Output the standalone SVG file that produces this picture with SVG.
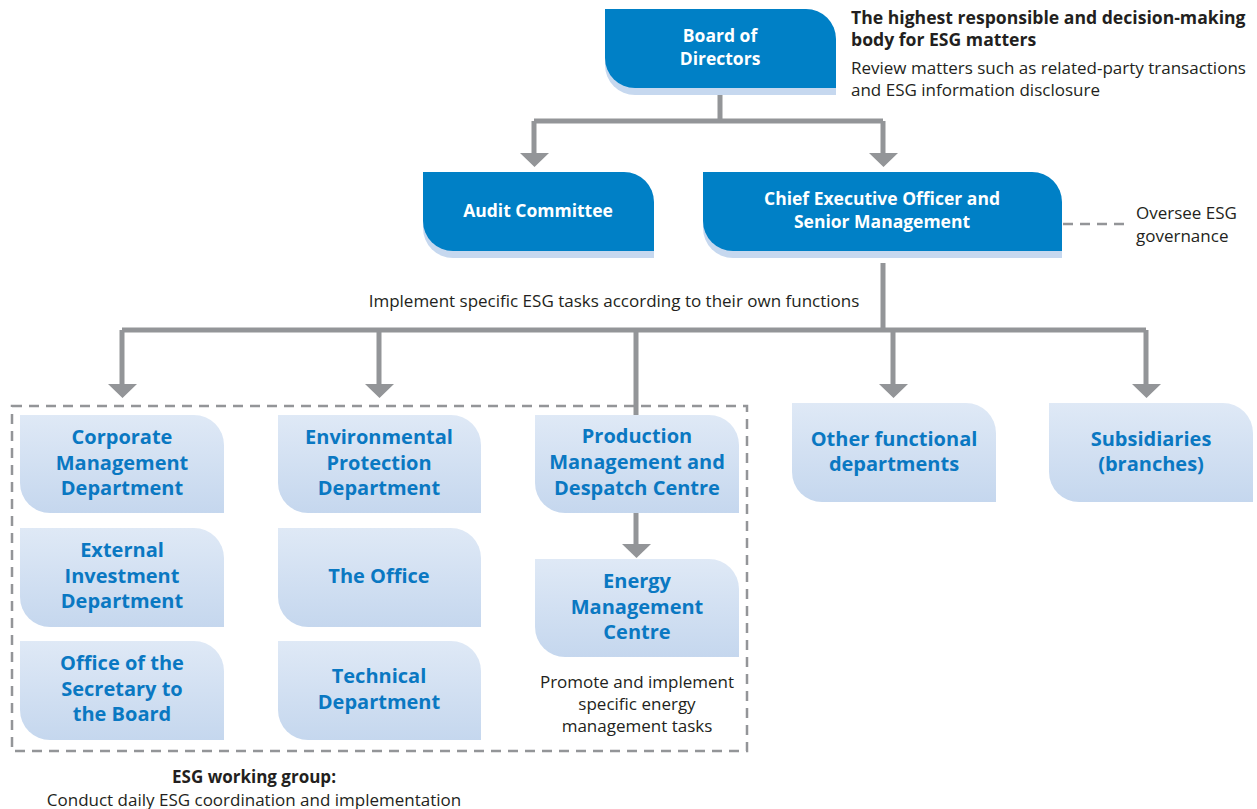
<svg xmlns="http://www.w3.org/2000/svg" width="1257" height="809" viewBox="0 0 1257 809">
<defs>
<linearGradient id="lg" x1="0" y1="0" x2="0" y2="1">
<stop offset="0" stop-color="#dfe9f6"/>
<stop offset="1" stop-color="#c5d7ee"/>
</linearGradient>
</defs>
<style>
.dk{fill:#0080c6}
.sh{fill:#c6d8ef}
.lt{fill:url(#lg)}
.wt{font-family:"Open Sans","Noto Sans",sans-serif;font-weight:bold;font-size:17.5px;fill:#ffffff;text-anchor:middle}
.bt{font-family:"Open Sans","Noto Sans",sans-serif;font-weight:bold;font-size:20px;fill:#0a78c2;text-anchor:middle}
.tx{font-family:"Open Sans","Noto Sans",sans-serif;font-size:17px;fill:#231f20}
.tb{font-family:"Open Sans","Noto Sans",sans-serif;font-size:17.6px;font-weight:bold;fill:#231f20}
.ln{fill:none;stroke:#939598;stroke-width:5}
.ar{fill:#939598}
.ds{fill:none;stroke:#939598;stroke-width:2.5;stroke-dasharray:10 7}
</style>

<g id="connectors">
<path class="ln" d="M720,95 V121 M534,121 H883 M534,121 V154 M883,121 V154"/>
<path class="ar" d="M520,153 H549 L534.5,167 Z M869,153 H898 L883.5,167 Z"/>
<path class="ln" d="M883,263 V330 M122,330 H1146 M122,330 V385 M379,330 V385 M636,330 V415 M893,330 V385 M1146,330 V385"/>
<path class="ar" d="M108,384 H137 L122.5,398 Z M365,384 H394 L379.5,398 Z M879,384 H908 L893.5,398 Z M1132,384 H1161 L1146.5,398 Z"/>
<path class="ln" d="M636,513 V545"/>
<path class="ar" d="M622,544 H651 L636.5,558 Z"/>
<path class="ds" d="M1063,224 H1128"/>
</g>

<g id="esg-working-group">
<rect class="ds" x="12" y="406" width="735" height="345"/>
<text class="tx" x="254" y="783" text-anchor="middle" style="font-weight:bold">ESG working group:</text>
<text class="tx" x="254" y="806" text-anchor="middle">Conduct daily ESG coordination and implementation</text>
</g>

<g id="board">
<path class="sh" d="M605,16 H806 A30,30 0 0 1 836,46 V95 H635 A30,30 0 0 1 605,65 Z"/>
<path class="dk" d="M605,9 H806 A30,30 0 0 1 836,39 V88 H635 A30,30 0 0 1 605,58 Z"/>
<text class="wt" x="720" y="42">Board of</text>
<text class="wt" x="720" y="65">Directors</text>
</g>

<g id="board-note">
<text class="tb" x="851" y="24">The highest responsible and decision-making</text>
<text class="tb" x="851" y="46">body for ESG matters</text>
<text class="tx" x="851" y="74">Review matters such as related-party transactions</text>
<text class="tx" x="851" y="96">and ESG information disclosure</text>
</g>

<g id="audit">
<path class="sh" d="M423,179 H624 A30,30 0 0 1 654,209 V258 H453 A30,30 0 0 1 423,228 Z"/>
<path class="dk" d="M423,172 H624 A30,30 0 0 1 654,202 V251 H453 A30,30 0 0 1 423,221 Z"/>
<text class="wt" x="538" y="217">Audit Committee</text>
</g>

<g id="ceo">
<path class="sh" d="M703,179 H1032 A30,30 0 0 1 1062,209 V258 H733 A30,30 0 0 1 703,228 Z"/>
<path class="dk" d="M703,172 H1032 A30,30 0 0 1 1062,202 V251 H733 A30,30 0 0 1 703,221 Z"/>
<text class="wt" x="882" y="205">Chief Executive Officer and</text>
<text class="wt" x="882" y="228">Senior Management</text>
</g>

<g id="ceo-note">
<text class="tx" x="1136" y="219">Oversee ESG</text>
<text class="tx" x="1136" y="242">governance</text>
</g>

<g id="implement-label">
<text class="tx" x="614" y="307" text-anchor="middle">Implement specific ESG tasks according to their own functions</text>
</g>

<g id="corporate">
<path class="lt" d="M20,415 H194 A30,30 0 0 1 224,445 V513 H50 A30,30 0 0 1 20,483 Z"/>
<text class="bt" x="122" y="444">Corporate</text>
<text class="bt" x="122" y="470">Management</text>
<text class="bt" x="122" y="495">Department</text>
</g>

<g id="external">
<path class="lt" d="M20,528 H194 A30,30 0 0 1 224,558 V627 H50 A30,30 0 0 1 20,597 Z"/>
<text class="bt" x="122" y="557">External</text>
<text class="bt" x="122" y="583">Investment</text>
<text class="bt" x="122" y="608">Department</text>
</g>

<g id="secretary">
<path class="lt" d="M20,641 H194 A30,30 0 0 1 224,671 V740 H50 A30,30 0 0 1 20,710 Z"/>
<text class="bt" x="122" y="670">Office of the</text>
<text class="bt" x="122" y="696">Secretary to</text>
<text class="bt" x="122" y="721">the Board</text>
</g>

<g id="environmental">
<path class="lt" d="M278,415 H451 A30,30 0 0 1 481,445 V513 H308 A30,30 0 0 1 278,483 Z"/>
<text class="bt" x="379" y="444">Environmental</text>
<text class="bt" x="379" y="470">Protection</text>
<text class="bt" x="379" y="495">Department</text>
</g>

<g id="office">
<path class="lt" d="M278,528 H451 A30,30 0 0 1 481,558 V627 H308 A30,30 0 0 1 278,597 Z"/>
<text class="bt" x="379" y="583">The Office</text>
</g>

<g id="technical">
<path class="lt" d="M278,641 H451 A30,30 0 0 1 481,671 V740 H308 A30,30 0 0 1 278,710 Z"/>
<text class="bt" x="379" y="683">Technical</text>
<text class="bt" x="379" y="709">Department</text>
</g>

<g id="production">
<path class="lt" d="M535,415 H709 A30,30 0 0 1 739,445 V513 H565 A30,30 0 0 1 535,483 Z"/>
<text class="bt" x="637" y="443">Production</text>
<text class="bt" x="637" y="469">Management and</text>
<text class="bt" x="637" y="495">Despatch Centre</text>
</g>

<g id="energy">
<path class="lt" d="M535,559 H709 A30,30 0 0 1 739,589 V657 H565 A30,30 0 0 1 535,627 Z"/>
<text class="bt" x="637" y="588">Energy</text>
<text class="bt" x="637" y="614">Management</text>
<text class="bt" x="637" y="639">Centre</text>
</g>

<g id="energy-note">
<text class="tx" x="637" y="688" text-anchor="middle">Promote and implement</text>
<text class="tx" x="637" y="710" text-anchor="middle">specific energy</text>
<text class="tx" x="637" y="732" text-anchor="middle">management tasks</text>
</g>

<g id="other">
<path class="lt" d="M792,403 H966 A30,30 0 0 1 996,433 V502 H822 A30,30 0 0 1 792,472 Z"/>
<text class="bt" x="894" y="446">Other functional</text>
<text class="bt" x="894" y="471">departments</text>
</g>

<g id="subsidiaries">
<path class="lt" d="M1049,403 H1223 A30,30 0 0 1 1253,433 V502 H1079 A30,30 0 0 1 1049,472 Z"/>
<text class="bt" x="1151" y="446">Subsidiaries</text>
<text class="bt" x="1151" y="471">(branches)</text>
</g>
</svg>
